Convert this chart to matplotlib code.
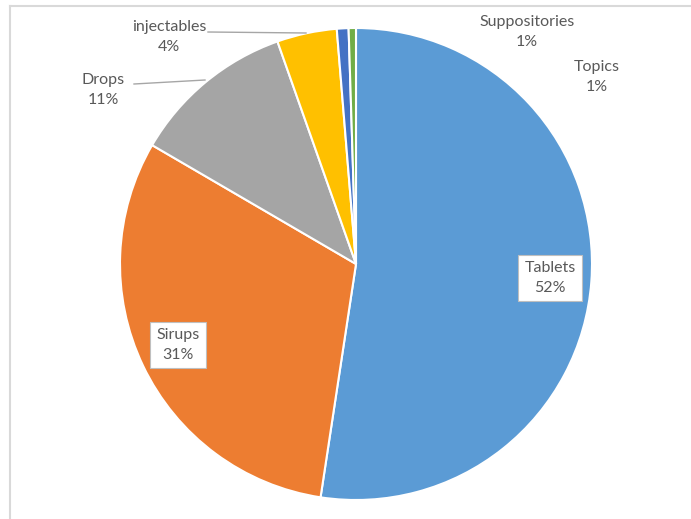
import matplotlib.pyplot as plt
from matplotlib.lines import Line2D

# data
categories = ['Tablets', 'Sirups', 'Drops', 'injectables', 'Suppositories', 'Topics']
values = [52.4, 31.0, 11.2, 4.1, 0.8, 0.5]
pct_labels = ['52%', '31%', '11%', '4%', '1%', '1%']
colors = ['#5B9BD5', '#ED7D31', '#A5A5A5', '#FFC000', '#4472C4', '#70AD47']

W, H = 691, 519
CX, CY, R = 356, 264, 236  # pie centre / radius in pixels


def px(x, y):
    # pixel position -> data coords (radius 1 pie at origin)
    return (x - CX) / R, (CY - y) / R


fig = plt.figure(figsize=(W / 100, H / 100), dpi=100)
ax = fig.add_axes([0, 0, 1, 1])
ax.pie(values, colors=colors, startangle=90, counterclock=False, radius=1,
       wedgeprops=dict(edgecolor='white', linewidth=1.5))
ax.set_xlim(-CX / R, (W - CX) / R)
ax.set_ylim((CY - H) / R, CY / R)
ax.set_aspect('equal')
ax.axis('off')

txt = dict(fontsize=11.5, color='#595959', family='Lato', ha='center', va='center',
           linespacing=1.55)
box = dict(boxstyle='square,pad=0.4', fc='white', ec='#BFBFBF', lw=0.8)

# label positions (pixels)
label_pos = {
    'Tablets': (550, 278),
    'Sirups': (178, 345),
    'Drops': (103, 90),
    'injectables': (169, 37),
    'Suppositories': (527, 32),
    'Topics': (597, 77),
}
for name, pct in zip(categories, pct_labels):
    x, y = px(*label_pos[name])
    kw = dict(txt)
    if name in ('Tablets', 'Sirups'):
        kw['bbox'] = box
    ax.text(x, y, name + '\n' + pct, **kw)

# leader lines
leaders = [((134, 84), (205, 80)), ((208, 32), (306, 33))]
for (x0, y0), (x1, y1) in leaders:
    a, b = px(x0, y0), px(x1, y1)
    ax.plot([a[0], b[0]], [a[1], b[1]], color='#A6A6A6', lw=1)

# chart frame (top and left edges visible)
fig.add_artist(Line2D([9.5 / W, 1], [1 - 5.5 / H, 1 - 5.5 / H], color='#D9D9D9', lw=1.5,
                      transform=fig.transFigure))
fig.add_artist(Line2D([9.5 / W, 9.5 / W], [0, 1 - 5.5 / H], color='#D9D9D9', lw=1.5,
                      transform=fig.transFigure))

fig.savefig('out.png', dpi=100)
